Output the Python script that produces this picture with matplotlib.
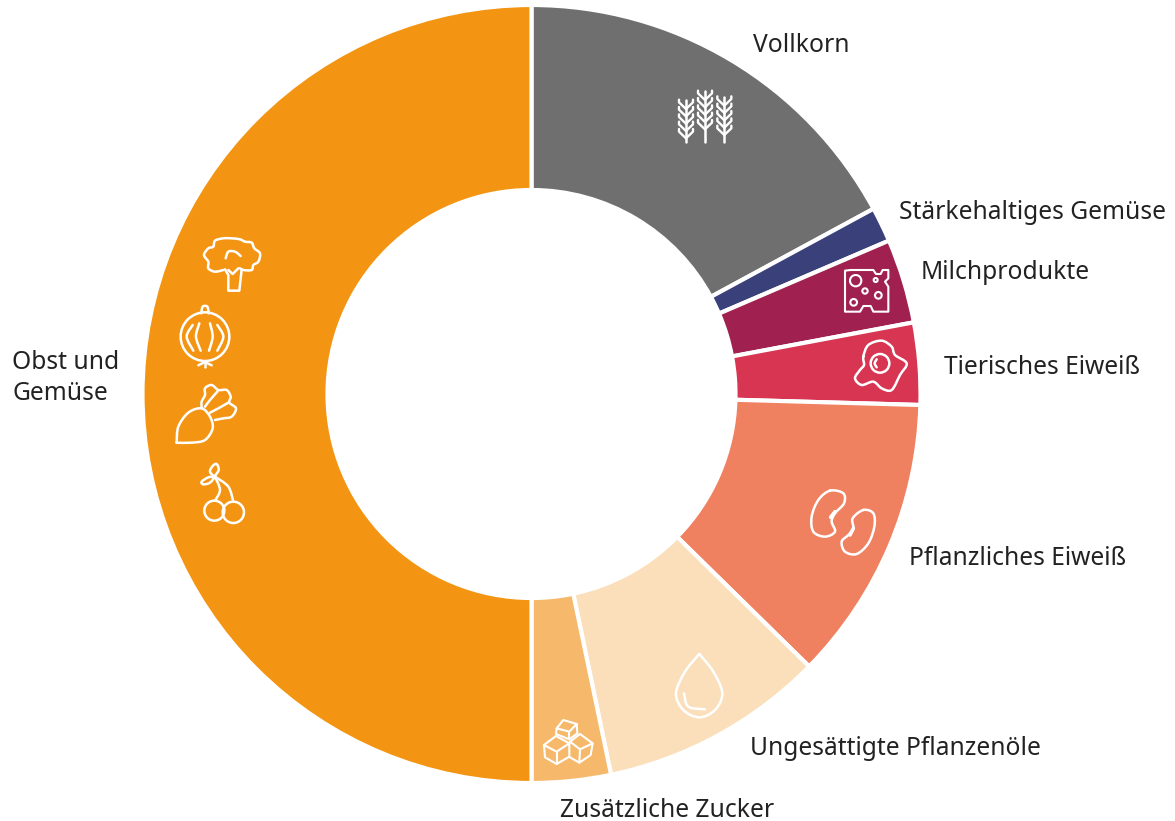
import numpy as np
import matplotlib
matplotlib.use("Agg")
import matplotlib.pyplot as plt
from matplotlib.path import Path
from matplotlib.patches import PathPatch, Circle

W, H = 1175, 821
categories = ["Vollkorn", "Stärkehaltiges Gemüse", "Milchprodukte", "Tierisches Eiweiß",
              "Pflanzliches Eiweiß", "Ungesättigte Pflanzenöle", "Zusätzliche Zucker", "Obst und\nGemüse"]
values = [17.1, 1.45, 3.5, 3.4, 11.9, 9.37, 3.28, 50.0]
colors = ["#706F6F", "#39407A", "#A0214F", "#D73551", "#EF8060", "#FBDFBB", "#F6B96B", "#F39512"]
label_pos = [(753, 45), (899, 212), (921, 272), (944, 367), (909, 558), (750, 748), (560, 810), (12, 378)]

fig = plt.figure(figsize=(W / 100, H / 100), dpi=100)
ax = fig.add_axes([0, 0, 1, 1])
CX, CY, R, RI = 531.5, 394, 389, 204
ax.pie(values, colors=colors, startangle=90, counterclock=False, center=(CX, H - CY), radius=R,
       frame=True, wedgeprops=dict(width=R - RI, edgecolor="white", linewidth=3.0))
ax.set_xlim(0, W)
ax.set_ylim(0, H)
ax.set_aspect("equal")
ax.axis("off")

for name, (x, y) in zip(categories, label_pos):
    ax.text(x, H - y, name, family="Noto Sans", fontsize=17.7, color="#222222", va="center", ha="left",
            linespacing=1.33)

LW = 1.8

def T(ox, oy):
    return lambda p: (ox + p[0] / 3, H - (oy + p[1] / 3))

def line(pts, t, lw=LW, c="white"):
    a = np.array([t(p) for p in pts])
    ax.plot(a[:, 0], a[:, 1], color=c, lw=lw, solid_capstyle="round", solid_joinstyle="round")

def smooth(pts, t, closed=False, lw=LW, c="white"):
    a = [np.array(t(p), float) for p in pts]
    n = len(a)
    verts, codes = [a[0]], [Path.MOVETO]
    segs = n if closed else n - 1
    for i in range(segs):
        p1, p2 = a[i], a[(i + 1) % n]
        p0 = a[(i - 1) % n] if (closed or i > 0) else p1
        p3 = a[(i + 2) % n] if (closed or i + 2 < n) else p2
        verts += [p1 + (p2 - p0) / 6, p2 - (p3 - p1) / 6, p2]
        codes += [Path.CURVE4] * 3
    ax.add_patch(PathPatch(Path(verts, codes), fc="none", ec=c, lw=lw, capstyle="round", joinstyle="round"))

def circ(p, r, t, lw=LW, c="white"):
    ax.add_patch(Circle(t(p), r / 3, fc="none", ec=c, lw=lw))

# Column of vegetable icons
t = T(160, 220)
smooth([(190, 150), (165, 155), (145, 145), (145, 125), (132, 105), (145, 85), (160, 80), (165, 62), (190, 55),
        (215, 55), (240, 58), (255, 65), (275, 68), (283, 85), (300, 100), (295, 125), (280, 135), (275, 150),
        (250, 150), (240, 145)], t)
line([(195, 148), (205, 165), (205, 212), (238, 212), (245, 148)], t)
line([(205, 150), (218, 162), (235, 145)], t)
smooth([(197, 115), (205, 95), (225, 95), (242, 108)], t)
circ((135, 350), 73, t)
smooth([(124, 280), (128, 260), (142, 260), (146, 280)], t)
smooth([(98, 315), (80, 350), (100, 392)], t)
smooth([(118, 310), (108, 350), (122, 392)], t)
smooth([(150, 310), (158, 350), (147, 392)], t)
smooth([(172, 315), (190, 350), (172, 392)], t)
line([(135, 424), (135, 442)], t)
line([(135, 426), (115, 436)], t)
line([(135, 426), (155, 436)], t)
smooth([(50, 668), (55, 620), (85, 578), (125, 565), (150, 590), (158, 625), (135, 660), (95, 668), (50, 668)], t)
smooth([(125, 565), (125, 545), (135, 525), (135, 505), (155, 495), (175, 510), (200, 510), (212, 530), (208, 548),
        (228, 565), (215, 590), (190, 595), (165, 600)], t)
smooth([(135, 560), (150, 540), (172, 515)], t)
smooth([(150, 578), (175, 565), (205, 548)], t)
circ((163, 872), 30, t)
circ((220, 877), 32, t)
smooth([(165, 842), (180, 810), (165, 770)], t)
smooth([(220, 845), (205, 800), (165, 770)], t)
smooth([(165, 770), (145, 772), (125, 785), (130, 793), (150, 788), (165, 770)], t)
smooth([(163, 770), (150, 755), (158, 738), (170, 732), (176, 750), (163, 770)], t)

# Wheat, cheese, egg
t = T(660, 80)
for x, top in [(78, 55), (135, 28), (193, 45)]:
    line([(x, top + 5), (x, 187)], t)
    for k in range(5):
        yy = top + 12 + k * 22
        line([(x, yy + 20), (x - 21, yy), (x - 21, yy - 8)], t, lw=1.7)
        line([(x, yy + 20), (x + 21, yy), (x + 21, yy - 8)], t, lw=1.7)
line([(572, 570), (640, 570), (648, 582), (662, 582), (668, 570), (685, 570), (685, 595), (675, 605), (685, 620),
      (685, 695), (640, 695), (632, 678), (610, 678), (600, 695), (555, 695), (555, 572), (572, 570)], t, lw=1.5)
circ((587, 602), 17, t, lw=1.5)
circ((647, 600), 6, t, lw=1.5)
circ((615, 633), 8, t, lw=1.5)
circ((655, 646), 10, t, lw=1.5)
circ((581, 667), 10, t, lw=1.5)
smooth([(610, 830), (625, 795), (665, 782), (695, 800), (705, 825), (740, 850), (720, 885), (695, 930), (665, 925),
        (640, 905), (605, 915), (585, 895), (600, 870), (612, 855)], t, closed=True)
circ((660, 850), 28, t)
smooth([(650, 838), (644, 850), (650, 862)], t)

# Beans, drop, sugar cubes
t = T(520, 480)
smooth([(930, 32), (970, 40), (972, 70), (945, 100), (935, 125), (945, 155), (915, 170), (880, 155), (875, 110),
        (895, 60)], t, closed=True)
smooth([(1030, 90), (1060, 100), (1063, 140), (1045, 190), (1010, 222), (975, 215), (965, 185), (985, 165),
        (1000, 145), (998, 115)], t, closed=True)
line([(945, 95), (932, 112)], t, lw=2.6)
line([(1000, 145), (990, 165)], t, lw=2.6)
smooth([(538, 522), (495, 575), (468, 640), (490, 690), (538, 712), (585, 690), (607, 640), (580, 575), (538, 522)], t)
smooth([(492, 640), (505, 680), (555, 688)], t)
line([(110, 745), (130, 720), (170, 732), (172, 760), (148, 778), (108, 762), (110, 745), (148, 755), (170, 732)], t, lw=1.5)
line([(148, 755), (148, 778)], t, lw=1.5)
line([(72, 795), (108, 768), (148, 790), (148, 830), (110, 852), (75, 832), (72, 795), (110, 815), (148, 790)], t, lw=1.5)
line([(110, 815), (110, 852)], t, lw=1.5)
line([(150, 785), (180, 762), (218, 790), (212, 825), (178, 848), (150, 832)], t, lw=1.5)
line([(150, 785), (180, 808), (218, 790)], t, lw=1.5)
line([(180, 808), (178, 848)], t, lw=1.5)

fig.savefig("out.png", dpi=100)
